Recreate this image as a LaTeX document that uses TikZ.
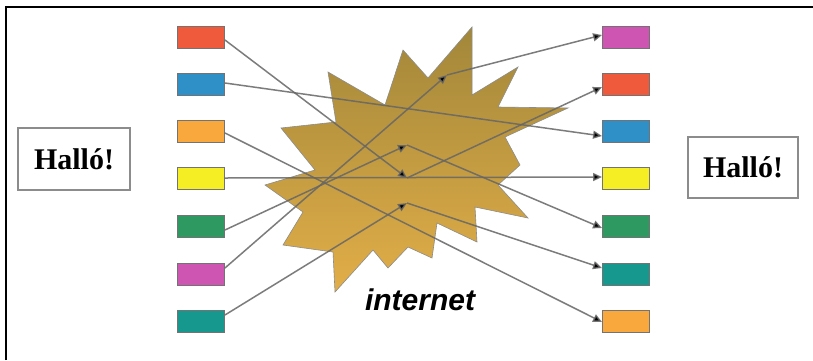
\documentclass[tikz,border=0pt]{standalone}
\usepackage{fontspec}
\setmainfont{Liberation Serif}
\setsansfont{Liberation Sans}
\usetikzlibrary{arrows.meta,calc}
\definecolor{cRed}{HTML}{EF5A3C}
\definecolor{cBlue}{HTML}{2E90C6}
\definecolor{cOrange}{HTML}{F8A83C}
\definecolor{cYellow}{HTML}{F6EE24}
\definecolor{cGreen}{HTML}{2E9960}
\definecolor{cPink}{HTML}{CE56B2}
\definecolor{cTeal}{HTML}{16988E}
\definecolor{cloudTop}{HTML}{A2873A}
\definecolor{cloudBot}{HTML}{E2AE48}
\begin{document}
\begin{tikzpicture}[x=1pt,y=-1pt,
  pkt/.style={draw=black!55, line width=0.9pt, minimum width=47pt, minimum height=22pt, inner sep=0pt},
  link/.style={draw=black!60, draw opacity=0.85, line width=1.5pt, -{Triangle[length=9pt,width=8pt,fill=black]}},
  hallo/.style={draw=black!45, line width=1.2pt, fill=white, minimum width=112pt, minimum height=62pt, inner sep=0pt, font=\bfseries\fontsize{30}{30}\selectfont}]
\useasboundingbox (0,0) rectangle (813,360);
\fill[white] (0,0) rectangle (813,360);
% frame
\draw[line width=2.5pt] (6,360) -- (6,7) -- (813,7);
% cloud
\draw[draw=black!45, line width=0.6pt, top color=cloudTop, bottom color=cloudBot]
 (328,72) -- (385,105) -- (403,50) -- (428,78) -- (472,27) -- (472,95) -- (518,67) -- (498,107)
 -- (568,108) -- (505,137) -- (520,165) -- (498,185) -- (528,218) -- (475,207) -- (477,242)
 -- (437,223) -- (432,258) -- (408,247) -- (388,268) -- (373,250) -- (335,292) -- (333,252)
 -- (283,245) -- (303,212) -- (265,185) -- (315,170) -- (281,128) -- (336,122) -- cycle;
\node[font=\sffamily\bfseries\itshape\fontsize{30}{30}\selectfont] (inet) at (420,300) {internet};
% left boxes
\node[pkt, fill=cRed]    (L1) at (201,37) {};
\node[pkt, fill=cBlue]   (L2) at (201,84) {};
\node[pkt, fill=cOrange] (L3) at (201,131) {};
\node[pkt, fill=cYellow] (L4) at (201,178) {};
\node[pkt, fill=cGreen]  (L5) at (201,226) {};
\node[pkt, fill=cPink]   (L6) at (201,274) {};
\node[pkt, fill=cTeal]   (L7) at (201,321) {};
% right boxes
\node[pkt, fill=cPink]   (R1) at (626,37) {};
\node[pkt, fill=cRed]    (R2) at (626,84) {};
\node[pkt, fill=cBlue]   (R3) at (626,131) {};
\node[pkt, fill=cYellow] (R4) at (626,178) {};
\node[pkt, fill=cGreen]  (R5) at (626,226) {};
\node[pkt, fill=cTeal]   (R6) at (626,274) {};
\node[pkt, fill=cOrange] (R7) at (626,321) {};
% Hallo boxes
\node[hallo] (hl) at (74,159) {Halló!};
\node[hallo, minimum width=110pt, minimum height=61pt] (hr) at (743,167.5) {Halló!};
% midpoints
\coordinate (m1) at (447,75);
\coordinate (m2) at (407,145);
\coordinate (m3) at (407,178);
\coordinate (m4) at (407,203);
% links
\draw[link] ($(L1.east)+(0,3)$) -- (m3);
\draw[link] (m3) -- ($(R2.west)+(0,3)$);
\draw[link] ($(L2.east)+(0,-1)$) -- ($(R3.west)+(0,5)$);
\draw[link] ($(L3.east)+(0,2)$) -- ($(R7.west)+(0,1)$);
\draw[link] (L4.east) -- ($(R4.west)+(0,-1)$);
\draw[link] ($(L5.east)+(0,4)$) -- (m2);
\draw[link] (m2) -- ($(R5.west)+(0,2)$);
\draw[link] ($(L6.east)+(0,-6)$) -- (m1);
\draw[link] (m1) -- ($(R1.west)+(0,-2)$);
\draw[link] ($(L7.east)+(0,-6)$) -- (m4);
\draw[link] (m4) -- ($(R6.west)+(0,-6)$);
\end{tikzpicture}
\end{document}
